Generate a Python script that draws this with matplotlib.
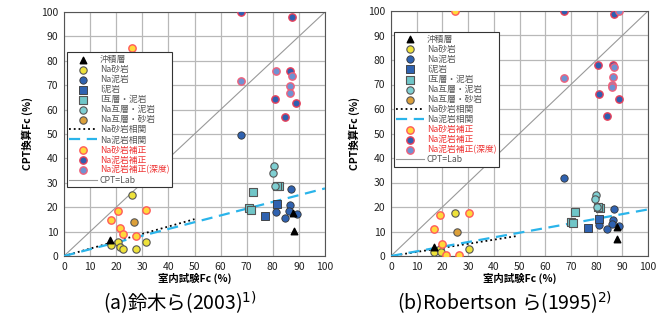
import matplotlib
matplotlib.use("Agg")
import matplotlib.pyplot as plt
import numpy as np

plt.rcParams['font.family'] = ['Noto Sans CJK JP', 'DejaVu Sans']

# ---- (a) Suzuki et al. (2003) ----
a_alluvial_x = [17.8, 87.9, 88.2]
a_alluvial_y = [6.5, 17.5, 10.1]
a_sand_x = [26.1, 20.6, 18.0, 31.3, 21.5, 22.6, 27.6]
a_sand_y = [25.1, 5.6, 4.4, 5.6, 3.5, 2.7, 2.7]
a_mud_x = [68.0, 87.0, 86.6, 81.2, 86.3, 89.3, 84.5]
a_mud_y = [49.5, 27.3, 21.1, 17.9, 18.6, 17.3, 15.7]
a_imud_x = [81.6, 77.2]
a_imud_y = [21.3, 16.2]
a_ialt_x = [72.3, 82.4, 70.8, 71.6, 81.6]
a_ialt_y = [26.2, 28.6, 19.6, 18.8, 28.8]
a_altmud_x = [80.3, 79.9, 80.8]
a_altmud_y = [36.8, 34.2, 28.8]
a_altsand_x = [26.9]
a_altsand_y = [14.0]
a_sandcor_x = [26.0, 20.5, 31.3, 18.0, 21.4, 22.6, 27.6]
a_sandcor_y = [85.3, 18.3, 18.7, 14.7, 11.5, 9.0, 8.0]
a_mudcor_x = [68.0, 87.5, 86.6, 81.0, 89.0, 84.5]
a_mudcor_y = [100.0, 98.0, 76.0, 64.5, 62.8, 56.8]
a_muddep_x = [68.0, 81.3, 87.3, 86.4, 86.4]
a_muddep_y = [71.6, 75.7, 73.7, 69.8, 67.0]
a_sand_line_x = [0, 50]
a_sand_line_y = [0, 15.1]
a_mud_line_x = [0, 100]
a_mud_line_y = [0, 27.7]

# ---- (b) Robertson et al. (1995) ----
b_alluvial_x = [16.6, 87.9, 88.0]
b_alluvial_y = [3.5, 12.0, 6.9]
b_sand_x = [25.0, 16.6, 19.2, 30.3, 19.5]
b_sand_y = [17.7, 1.8, 2.7, 3.0, 1.6]
b_mud_x = [67.2, 86.9, 86.3, 80.8, 86.0, 88.7, 84.0]
b_mud_y = [32.0, 19.0, 14.7, 12.5, 13.0, 12.2, 10.9]
b_imud_x = [80.9, 76.6]
b_imud_y = [15.1, 11.4]
b_ialt_x = [71.5, 81.5, 70.1, 70.9, 80.6]
b_ialt_y = [18.0, 19.7, 14.0, 13.3, 19.8]
b_altmud_x = [79.7, 79.5, 80.1]
b_altmud_y = [24.9, 23.1, 20.1]
b_altsand_x = [25.6]
b_altsand_y = [9.8]
b_sandcor_x = [25.0, 19.2, 30.3, 16.6, 20.0, 21.3, 26.5]
b_sandcor_y = [100.0, 16.7, 17.6, 10.9, 4.9, 0.4, 0.4]
b_mudcor_x = [67.2, 86.7, 86.2, 80.6, 80.8, 88.7, 84.0]
b_mudcor_y = [100.0, 98.8, 77.8, 78.1, 66.0, 64.2, 57.1]
b_muddep_x = [67.2, 86.9, 86.2, 85.8, 86.1, 88.7]
b_muddep_y = [72.5, 77.3, 73.2, 70.0, 68.8, 100.0]
b_sand_line_x = [0, 49.3]
b_sand_line_y = [0, 8.2]
b_mud_line_x = [0, 100]
b_mud_line_y = [0, 19.0]

labels = ['沖積層', 'Na砂岩', 'Na泥岩', 'I泥岩', 'I互層・泥岩', 'Na互層・泥岩',
          'Na互層・砂岩', 'Na砂岩相関', 'Na泥岩相関', 'Na砂岩補正', 'Na泥岩補正',
          'Na泥岩補正(深度)', 'CPT=Lab']
ticks = [0, 10, 20, 30, 40, 50, 60, 70, 80, 90, 100]


def draw(ax, d, leg_top):
    ax.set_xlim(0, 100)
    ax.set_ylim(0, 100)
    ax.set_xticks(ticks)
    ax.set_yticks(ticks)
    ax.grid(True, color='#b8b8b8', lw=0.9)
    ax.set_axisbelow(True)
    for s in ax.spines.values():
        s.set_color('#555555')
        s.set_linewidth(0.8)
    ax.tick_params(length=0, labelsize=7.5, colors='#222222', pad=4)
    ms = 28
    h = []
    h.append(ax.scatter(d['al'][0], d['al'][1], s=22, marker='^', c='black', zorder=5))
    h.append(ax.scatter(d['sa'][0], d['sa'][1], s=ms, marker='o', c='#eee23a', edgecolors='#555555', lw=0.8, zorder=4))
    h.append(ax.scatter(d['mu'][0], d['mu'][1], s=ms, marker='o', c='#2f62b0', edgecolors='#333333', lw=0.6, zorder=4))
    h.append(ax.scatter(d['im'][0], d['im'][1], s=ms, marker='s', c='#2f62b0', edgecolors='#333333', lw=0.6, zorder=4))
    h.append(ax.scatter(d['ia'][0], d['ia'][1], s=ms, marker='s', c='#70c6c8', edgecolors='#555555', lw=0.8, zorder=4))
    h.append(ax.scatter(d['am'][0], d['am'][1], s=ms, marker='o', c='#7fcfd2', edgecolors='#555555', lw=0.8, zorder=4))
    h.append(ax.scatter(d['as'][0], d['as'][1], s=ms, marker='o', c='#dca03a', edgecolors='#555555', lw=0.8, zorder=4))
    h.append(ax.plot(d['sl'][0], d['sl'][1], ls=':', color='black', lw=1.3, zorder=3)[0])
    h.append(ax.plot(d['ml'][0], d['ml'][1], ls=(0, (5, 3)), color='#2ab4ea', lw=1.6, zorder=3)[0])
    h.append(ax.scatter(d['sc'][0], d['sc'][1], s=ms, marker='o', c='#ffd83a', edgecolors='#ff5a5a', lw=1.0, zorder=4))
    h.append(ax.scatter(d['mc'][0], d['mc'][1], s=ms, marker='o', c='#2f5fb0', edgecolors='#e8405a', lw=1.0, zorder=4))
    h.append(ax.scatter(d['md'][0], d['md'][1], s=ms, marker='o', c='#6e92d2', edgecolors='#f0607a', lw=1.0, zorder=4))
    h.append(ax.plot([0, 100], [0, 100], color='#999999', lw=0.8, zorder=2)[0])
    leg = ax.legend(h, labels, loc='upper left', bbox_to_anchor=(0.0, leg_top),
                    fontsize=6.3, frameon=True, fancybox=False, edgecolor='#333333',
                    framealpha=1, borderpad=0.3, labelspacing=0.12, handlelength=3.2,
                    handletextpad=0.3, borderaxespad=0.3)
    leg.get_frame().set_linewidth(0.8)
    for i, t in enumerate(leg.get_texts()):
        t.set_color('#ee3333' if i in (9, 10, 11) else '#555555')
    leg.set_zorder(10)
    ax.set_xlabel('室内試験Fc (%)', fontsize=7.5, fontweight='bold', labelpad=1)
    ax.set_ylabel('CPT換算Fc (%)', fontsize=7.5, fontweight='bold', labelpad=6)


fig = plt.figure(figsize=(6.69, 3.27), dpi=100)
ax1 = fig.add_axes([64 / 669, 1 - 256 / 327, 261 / 669, 244 / 327])
ax2 = fig.add_axes([391 / 669, 1 - 256 / 327, 257 / 669, 245 / 327])

da = {'al': (a_alluvial_x, a_alluvial_y), 'sa': (a_sand_x, a_sand_y), 'mu': (a_mud_x, a_mud_y),
      'im': (a_imud_x, a_imud_y), 'ia': (a_ialt_x, a_ialt_y), 'am': (a_altmud_x, a_altmud_y),
      'as': (a_altsand_x, a_altsand_y), 'sl': (a_sand_line_x, a_sand_line_y),
      'ml': (a_mud_line_x, a_mud_line_y), 'sc': (a_sandcor_x, a_sandcor_y),
      'mc': (a_mudcor_x, a_mudcor_y), 'md': (a_muddep_x, a_muddep_y)}
db = {'al': (b_alluvial_x, b_alluvial_y), 'sa': (b_sand_x, b_sand_y), 'mu': (b_mud_x, b_mud_y),
      'im': (b_imud_x, b_imud_y), 'ia': (b_ialt_x, b_ialt_y), 'am': (b_altmud_x, b_altmud_y),
      'as': (b_altsand_x, b_altsand_y), 'sl': (b_sand_line_x, b_sand_line_y),
      'ml': (b_mud_line_x, b_mud_line_y), 'sc': (b_sandcor_x, b_sandcor_y),
      'mc': (b_mudcor_x, b_mudcor_y), 'md': (b_muddep_x, b_muddep_y)}

draw(ax1, da, 0.845)
draw(ax2, db, 0.925)

fig.text(180 / 669, 1 - 303 / 327, '(a)鈴木ら(2003)$^{1)}$', ha='center', va='center', fontsize=14)
fig.text(504 / 669, 1 - 303 / 327, '(b)Robertson ら(1995)$^{2)}$', ha='center', va='center', fontsize=14)

fig.savefig('out.png', dpi=100)
